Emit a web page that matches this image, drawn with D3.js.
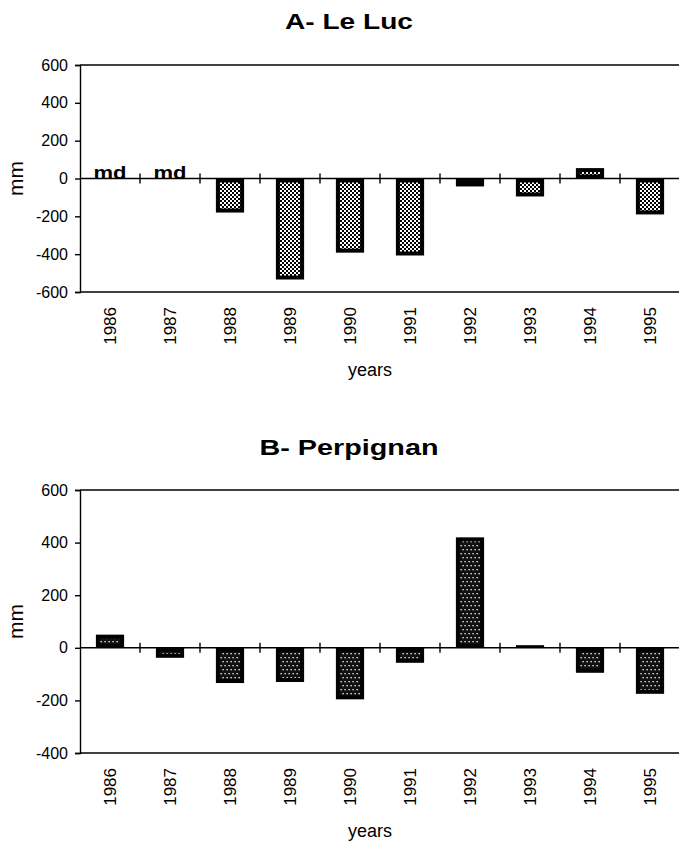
<!DOCTYPE html>
<html>
<head>
<meta charset="utf-8">
<script src="https://cdn.jsdelivr.net/npm/d3@7"></script>
<style>
  body { margin: 0; background: #fff; }
  text { font-family: "Liberation Sans", Arial, sans-serif; fill: #000; }
</style>
</head>
<body>
<div id="chart"></div>
<script>
const years = ["1986", "1987", "1988", "1989", "1990", "1991", "1992", "1993", "1994", "1995"];
// Le Luc: null = missing data ("md")
const leLuc = [null, null, -180, -534, -392, -407, -42, -95, 55, -190];
const perpignan = [50, -38, -134, -130, -196, -57, 420, 10, -95, -175];
const ticksLeLuc = [600, 400, 200, 0, -200, -400, -600];
const ticksPerpignan = [600, 400, 200, 0, -200, -400];

const W = 679, H = 847;
const svg = d3.select("#chart").append("svg")
    .attr("width", W)
    .attr("height", H);

// fill patterns
const defs = svg.append("defs");
const pA = defs.append("pattern")
    .attr("id", "checks")
    .attr("patternUnits", "userSpaceOnUse")
    .attr("width", 4).attr("height", 4);
pA.append("rect").attr("width", 4).attr("height", 4).attr("fill", "#fff");
pA.append("rect").attr("x", 0).attr("y", 0).attr("width", 2).attr("height", 2).attr("fill", "#000");
pA.append("rect").attr("x", 2).attr("y", 2).attr("width", 2).attr("height", 2).attr("fill", "#000");

const pB = defs.append("pattern")
    .attr("id", "dots")
    .attr("patternUnits", "userSpaceOnUse")
    .attr("width", 4).attr("height", 8);
pB.append("rect").attr("width", 4).attr("height", 8).attr("fill", "#111");
pB.append("rect").attr("x", 0.5).attr("y", 1).attr("width", 1.3).attr("height", 1.3).attr("fill", "#fff");
pB.append("rect").attr("x", 2.5).attr("y", 5).attr("width", 1.3).attr("height", 1.3).attr("fill", "#fff");

function drawChart(cfg) {
    const left = 80, right = 680;

    const x = d3.scaleBand()
        .domain(years)
        .range([left, right])
        .paddingInner(0.53)
        .paddingOuter(0.265);

    const y = d3.scaleLinear()
        .domain(cfg.domain)
        .range([cfg.bottom, cfg.top]);

    const g = svg.append("g");

    // title
    g.append("text")
        .attr("x", 349)
        .attr("y", cfg.titleY)
        .attr("text-anchor", "middle")
        .style("font-size", "22px")
        .style("font-weight", "bold")
        .attr("textLength", cfg.titleLen)
        .attr("lengthAdjust", "spacingAndGlyphs")
        .text(cfg.title);

    // frame: top and bottom lines
    g.append("line")
        .attr("x1", left).attr("x2", right)
        .attr("y1", y(cfg.domain[1])).attr("y2", y(cfg.domain[1]))
        .attr("stroke", "#000").attr("stroke-width", 1.4);
    g.append("line")
        .attr("x1", left).attr("x2", right)
        .attr("y1", y(cfg.domain[0])).attr("y2", y(cfg.domain[0]))
        .attr("stroke", "#000").attr("stroke-width", 1.4);

    // y axis
    const yAxis = g.append("g")
        .attr("transform", "translate(" + left + ",0)")
        .call(d3.axisLeft(y).tickValues(cfg.ticks).tickSize(5).tickPadding(7)
            .tickFormat(d => String(d)));
    yAxis.select(".domain").attr("stroke-width", 1.4);
    yAxis.selectAll("line").attr("stroke-width", 1.4);
    yAxis.selectAll("text")
        .style("font-size", "16px")
        .style("font-family", "'Liberation Sans', Arial, sans-serif");

    // zero line with category separators
    const y0 = y(0);
    g.append("line")
        .attr("x1", left).attr("x2", right)
        .attr("y1", y0).attr("y2", y0)
        .attr("stroke", "#000").attr("stroke-width", 1.4);
    g.selectAll(".sep")
        .data(years.slice(1))
        .enter().append("line")
        .attr("x1", d => x(d) - x.step() * x.paddingInner() / 2)
        .attr("x2", d => x(d) - x.step() * x.paddingInner() / 2)
        .attr("y1", y0 - 5).attr("y2", y0 + 5)
        .attr("stroke", "#000").attr("stroke-width", 1.4);

    // bars: black body with patterned inside
    const vals = years.map((yr, i) => ({year: yr, v: cfg.values[i]}));
    const present = vals.filter(d => d.v !== null);
    const b = 4;
    g.selectAll(".bar")
        .data(present)
        .enter().append("rect")
        .attr("x", d => x(d.year))
        .attr("y", d => y(Math.max(0, d.v)))
        .attr("width", x.bandwidth())
        .attr("height", d => Math.abs(y(d.v) - y0))
        .attr("fill", "#000");
    g.selectAll(".inner")
        .data(present.filter(d => Math.abs(y(d.v) - y0) > 2 * b + 1))
        .enter().append("rect")
        .attr("x", d => x(d.year) + b)
        .attr("y", d => y(Math.max(0, d.v)) + b)
        .attr("width", x.bandwidth() - 2 * b)
        .attr("height", d => Math.abs(y(d.v) - y0) - 2 * b)
        .attr("fill", "url(#" + cfg.pattern + ")");

    // missing data marks
    g.selectAll(".md")
        .data(vals.filter(d => d.v === null))
        .enter().append("text")
        .attr("x", d => x(d.year) + x.bandwidth() / 2)
        .attr("y", y0)
        .attr("text-anchor", "middle")
        .style("font-size", "19px")
        .style("font-weight", "bold")
        .attr("textLength", 33)
        .attr("lengthAdjust", "spacingAndGlyphs")
        .text("md");

    // year labels
    g.selectAll(".yr")
        .data(years)
        .enter().append("text")
        .attr("transform", d => "translate(" + (x(d) + x.bandwidth() / 2) + "," + (cfg.bottom + 15) + ") rotate(-90)")
        .attr("dy", "0.36em")
        .attr("text-anchor", "end")
        .style("font-size", "17px")
        .text(d => d);

    // axis titles
    g.append("text")
        .attr("x", 370)
        .attr("y", cfg.bottom + 84)
        .attr("text-anchor", "middle")
        .style("font-size", "18px")
        .text("years");

    g.append("text")
        .attr("transform", "translate(23," + ((cfg.top + cfg.bottom) / 2) + ") rotate(-90)")
        .attr("text-anchor", "middle")
        .style("font-size", "21px")
        .text("mm");
}

drawChart({
    title: "A- Le Luc", titleY: 29, titleLen: 128,
    top: 65, bottom: 292, domain: [-600, 600],
    ticks: ticksLeLuc, values: leLuc, pattern: "checks"
});

drawChart({
    title: "B- Perpignan", titleY: 455, titleLen: 179,
    top: 490, bottom: 753, domain: [-400, 600],
    ticks: ticksPerpignan, values: perpignan, pattern: "dots"
});
</script>
</body>
</html>
